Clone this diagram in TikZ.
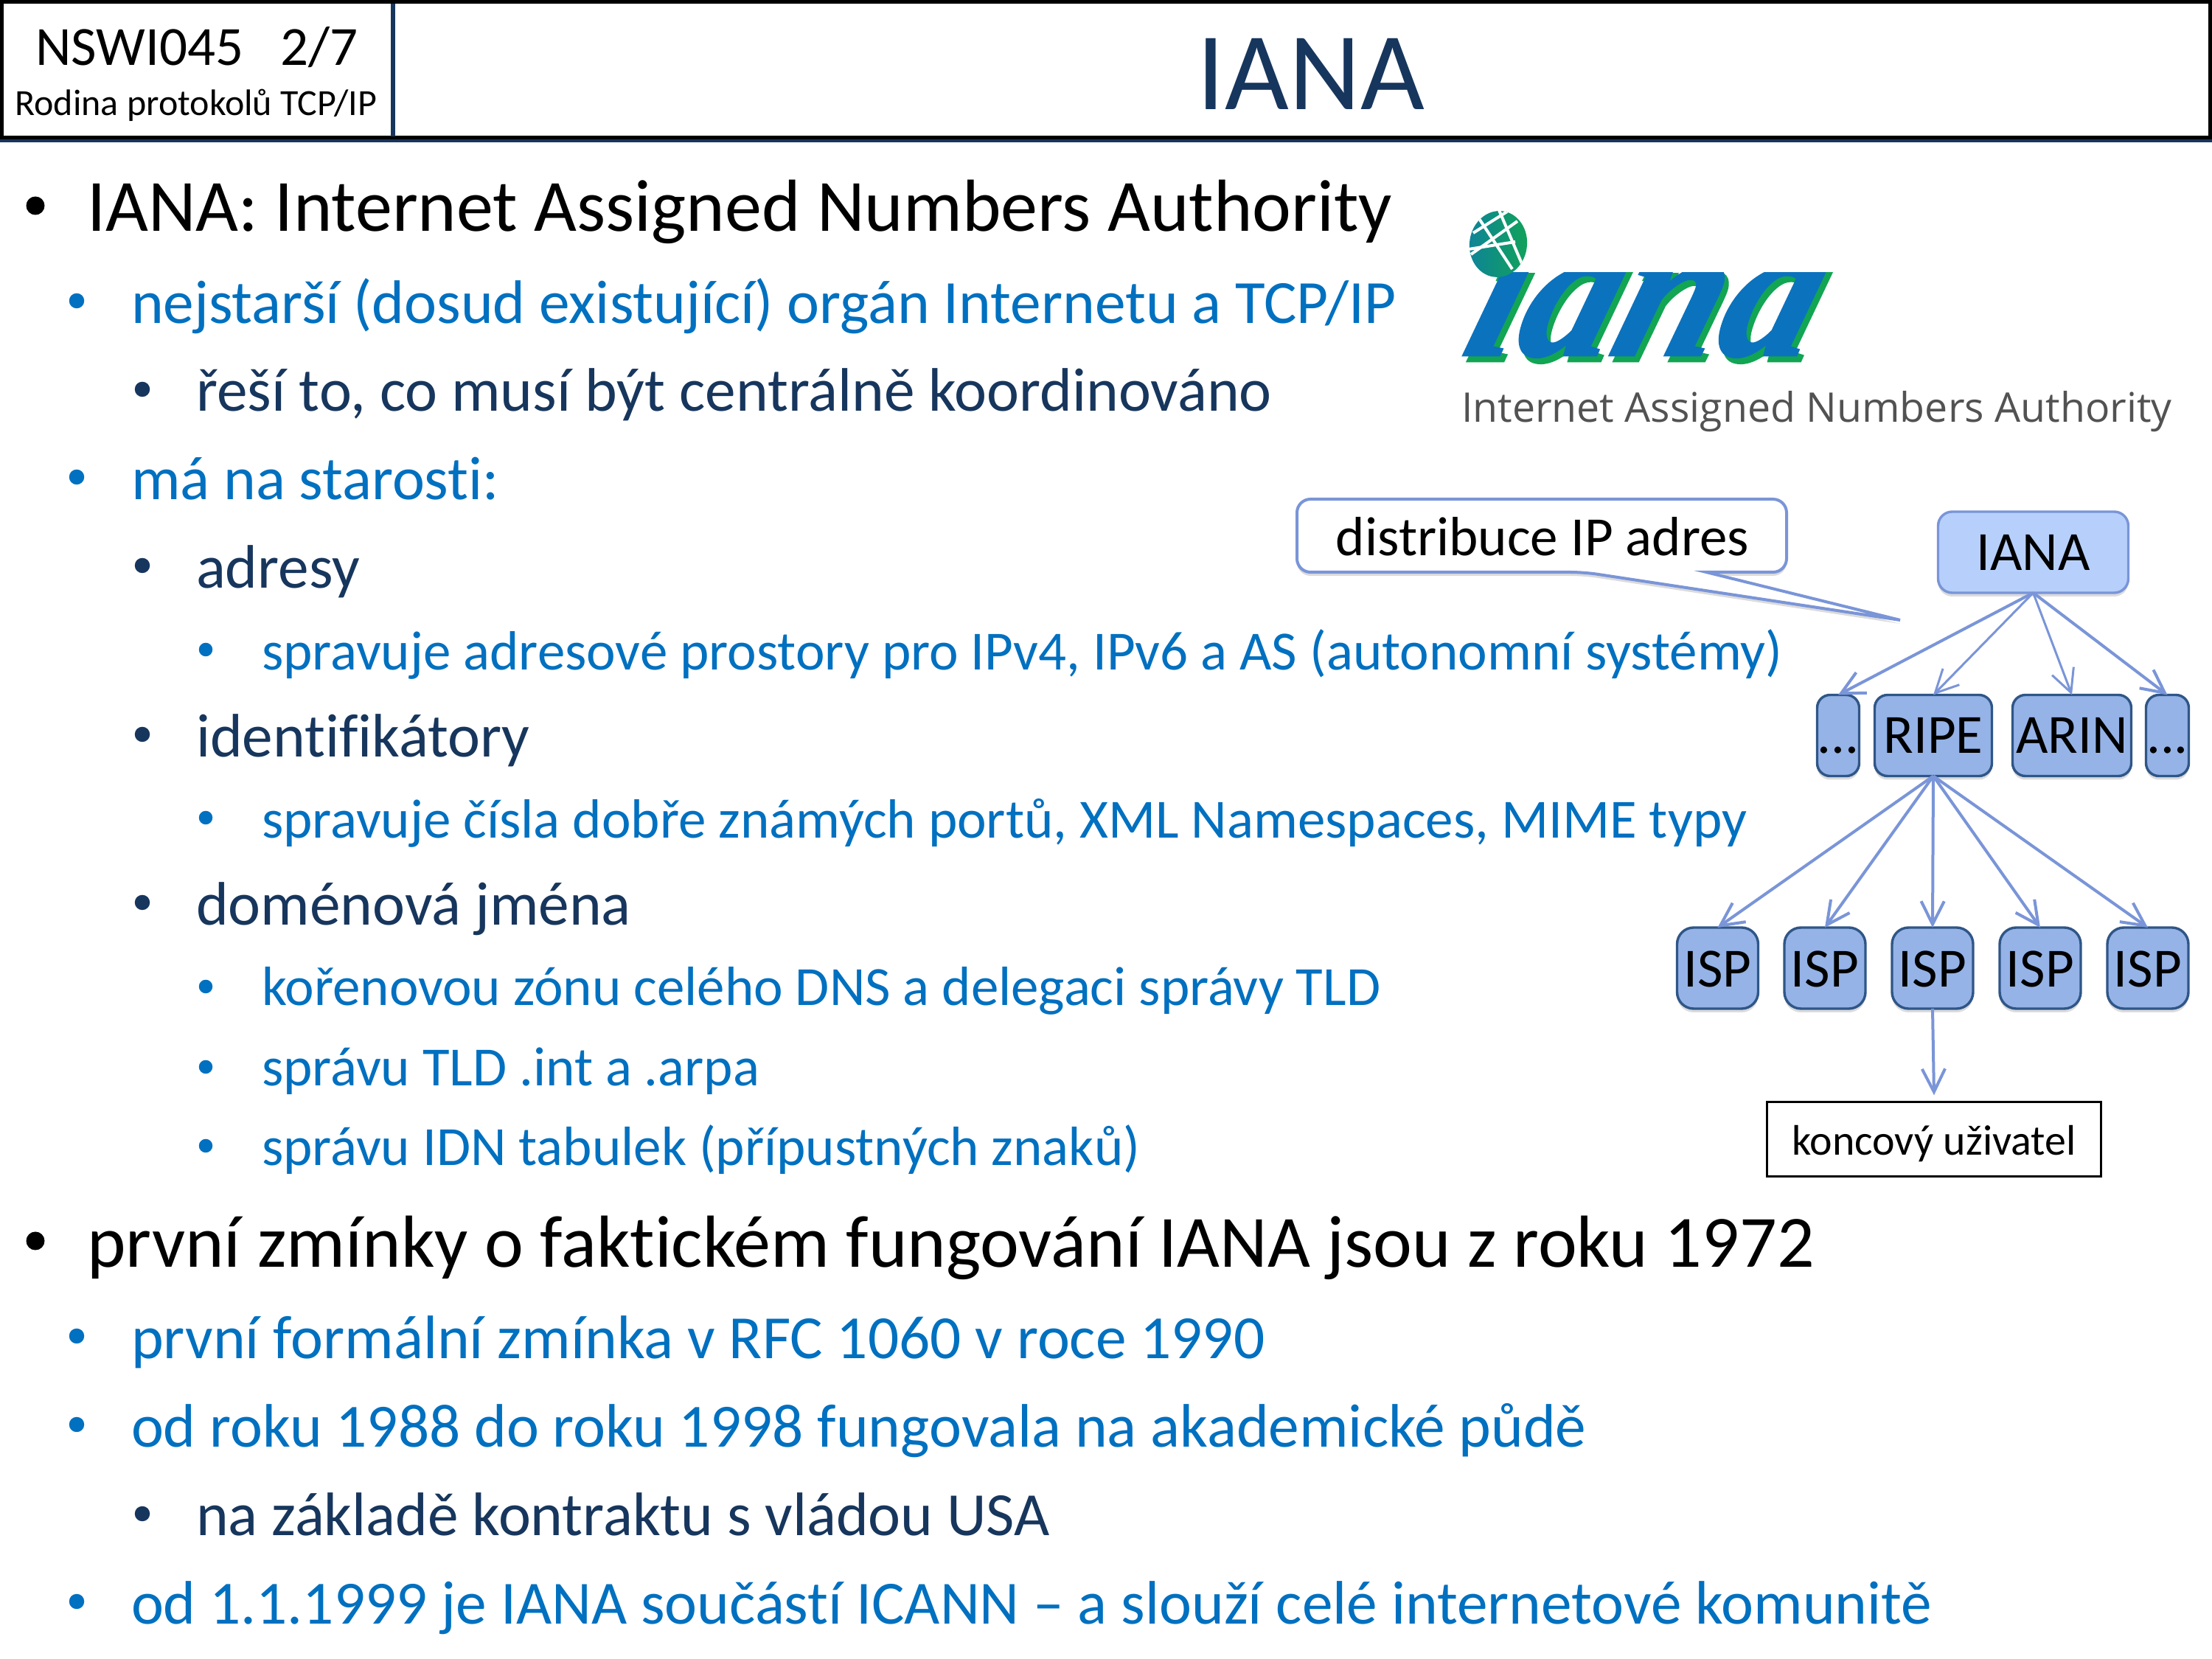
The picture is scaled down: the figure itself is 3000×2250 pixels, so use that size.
\documentclass[tikz,border=0pt]{standalone}
\usepackage{fontspec}
\setmainfont{Carlito}[Ligatures=NoCommon]
\newfontfamily\logofont{Liberation Serif}[BoldItalicFeatures={FakeBold=1.1}]
\newfontfamily\logosub{Open Sans}
\usetikzlibrary{arrows.meta,shadows,calc}
\definecolor{navy}{HTML}{17365D}
\definecolor{mid}{HTML}{0070C0}
\definecolor{boxf}{HTML}{95B3E7}
\definecolor{boxd}{HTML}{2F5687}
\definecolor{topf}{HTML}{B7D0FB}
\definecolor{conn}{HTML}{7A95D8}
\definecolor{logob}{HTML}{0B72BE}
\definecolor{logog}{HTML}{12A553}
\def\pxu{0.24pt}
\tikzset{
  txt/.style={anchor=base west,inner sep=0pt,outer sep=0pt},
  lone/.style={txt,text=black,font=\fontsize{24}{28}\selectfont},
  ltwo/.style={txt,text=mid,font=\fontsize{20}{24}\selectfont},
  lthree/.style={txt,text=navy,font=\fontsize{20}{24}\selectfont},
  lfour/.style={txt,text=mid,font=\fontsize{18}{22}\selectfont},
  dota/.style={circle,fill=black,draw=none,inner sep=0pt,minimum size=25*\pxu},
  dotb/.style={circle,fill=mid,draw=none,inner sep=0pt,minimum size=20.5*\pxu},
  dotc/.style={circle,fill=navy,draw=none,inner sep=0pt,minimum size=20.5*\pxu},
  dotd/.style={circle,fill=mid,draw=none,inner sep=0pt,minimum size=18.5*\pxu},
  softshadow/.style={drop shadow={shadow xshift=0pt,shadow yshift=-1.2pt,opacity=.2,fill=black!70}},
  isbox/.style={draw=boxd,fill=boxf,line width=3.4*\pxu,rounded corners=4.2pt,inner sep=0pt,outer sep=0pt,
     anchor=north west,font=\fontsize{18}{22}\selectfont,text=black,align=center,softshadow},
  topbox/.style={isbox,draw=conn,fill=topf,text height=19.2pt,text depth=7.2pt,rounded corners=4.6pt},
  rowbox/.style={isbox,text height=18.96pt,text depth=7.44pt},
  ispbox/.style={isbox,rounded corners=5.4pt,text height=19.44pt,text depth=6.96pt,minimum width=110*\pxu},
  endbox/.style={draw=black,fill=white,line width=3.4*\pxu,inner sep=0pt,outer sep=0pt,anchor=north west,
     font=\fontsize{13.9}{17}\selectfont,text height=17.28pt,text depth=6.96pt},
  conarrow/.style={draw=conn,line width=4*\pxu,-{Straight Barb[length=7.5pt,width=7.5pt]}},
  thinarrow/.style={conarrow,line width=3*\pxu},
}
\begin{document}
\begin{tikzpicture}[x=0.24pt,y=-0.24pt]
\useasboundingbox (0,0) rectangle (3000,2250);
\fill[white] (0,0) rectangle (3000,2250);
% header
\fill[navy] (0,189) rectangle (3000,193);
\draw[black,line width=5*\pxu] (2.5,2.5) rectangle (2997.5,187);
\fill[navy] (530,5) rectangle (536,185);
\node[txt,anchor=base,font=\fontsize{18}{22}\selectfont] (course) at (267,89) {NSWI045\hspace{12.2pt}2/7};
\node[txt,anchor=base,font=\fontsize{12}{14}\selectfont] (sub) at (266,157) {Rodina protokolů TCP/IP};
\node[txt,anchor=base,text=navy,font=\fontsize{36}{40}\selectfont] (title) at (1778,149) {IANA};
% bullets
\foreach \nm/\x/\y/\st in {ba/48/279/dota,bb/104/408/dotb,bc/193/528/dotc,bd/104/647/dotb,be/193/767/dotc,bf/279/881/dotd,bg/193/996/dotc,bh/279/1109/dotd,bi/193/1224/dotc,bj/279/1338/dotd,bk/279/1447/dotd,bl/279/1554/dotd,bm/48/1683/dota,bn/104/1812/dotb,bo/104/1932/dotb,bp/193/2053/dotc,bq/104/2172/dotb}
  \node[\st] (\nm) at (\x,\y) {};
% text
\node[lone] (ta) at (118,314) {IANA: Internet Assigned Numbers Authority};
\node[ltwo] (tb) at (178,439) {nejstarší (dosud existující) orgán Internetu a TCP/IP};
\node[lthree] (tc) at (266,558) {řeší to, co musí být centrálně koordinováno};
\node[ltwo] (td) at (178,678) {má na starosti:};
\node[lthree] (te) at (266,798) {adresy};
\node[lfour] (tf) at (355,909) {spravuje adresové prostory pro IPv4, IPv6 a AS (autonomní systémy)};
\node[lthree] (tg) at (266,1027) {identifikátory};
\node[lfour] (th) at (355,1137) {spravuje čísla dobře známých portů, XML Namespaces, MIME typy};
\node[lthree] (ti) at (266,1255) {doménová jména};
\node[lfour] (tj) at (355,1364) {kořenovou zónu celého DNS a delegaci správy TLD};
\node[lfour] (tk) at (355,1473) {správu TLD .int a .arpa};
\node[lfour] (tl) at (355,1581) {správu IDN tabulek (přípustných znaků)};
\node[lone] (tm) at (118,1719) {první zmínky o faktickém fungování IANA jsou z roku 1972};
\node[ltwo] (tn) at (178,1843) {první formální zmínka v RFC 1060 v roce 1990};
\node[ltwo] (to) at (178,1963) {od roku 1988 do roku 1998 fungovala na akademické půdě};
\node[lthree] (tp) at (266,2083) {na základě kontraktu s vládou USA};
\node[ltwo] (tq) at (178,2203) {od 1.1.1999 je IANA součástí ICANN – a slouží celé internetové komunitě};
% logo
\begin{scope}
\clip (1960,370) rectangle (2520,500);
\begin{scope}[shift={(1977,482)},xslant=0.3]
\node[inner sep=0pt,anchor=base west,text=logob,transform shape] (logomain) at (0,0) {\rlap{\hspace{1.92pt}\raisebox{-1.92pt}{\textcolor{logog}{\resizebox{113pt}{43pt}{\logofont\bfseries\itshape iana}}}}\resizebox{113pt}{43pt}{\logofont\bfseries\itshape iana}};
\end{scope}
\end{scope}
\begin{scope}
\clip[rotate around={-8:(2032,331)}] (2032,331) ellipse (39 and 45);
\shade[left color=logob!70!logog,right color=logog] (1985,285) rectangle (2080,380);
\draw[white,line width=4*\pxu] (2005,295) -- (2051,365);
\draw[white,line width=4*\pxu] (2033,285) -- (2065,360);
\draw[white,line width=4*\pxu] (2058,300) -- (1995,345);
\draw[white,line width=4*\pxu] (2044,287) -- (1998,316);
\draw[white,line width=4*\pxu] (1992,338) -- (2055,328);
\end{scope}
\node[txt,text=black!68,font=\logosub\fontsize{13.3}{16}\selectfont] (logosubt) at (1982,573) {Internet Assigned Numbers Authority};
% callout
\coordinate (calltip) at (2577,841);
\draw[draw=conn,line width=4*\pxu,fill=white,softshadow]
  (2148,776) [sharp corners] -- (calltip) -- (2314,776) [rounded corners=4.4pt] -- (2423,776) -- (2423,677) -- (1759,677) -- (1759,776) -- cycle;
\node[txt,anchor=base,font=\fontsize{18}{22}\selectfont] (callout) at (2092,754) {distribuce IP adres};
% boxes
\node[topbox,minimum width=258*\pxu] (iana) at (2628.5,694) {IANA};
\node[rowbox,minimum width=57*\pxu] (dl) at (2464.5,942.5) {...};
\node[rowbox,minimum width=159*\pxu] (ripe) at (2542.5,942.5) {RIPE};
\node[rowbox,minimum width=161*\pxu] (arin) at (2729.5,942.5) {ARIN};
\node[rowbox,minimum width=58*\pxu] (dr) at (2910.5,942.5) {...};
\node[ispbox] (ia) at (2274.5,1258) {ISP};
\node[ispbox] (ib) at (2420,1258) {ISP};
\node[ispbox] (ic) at (2566,1258) {ISP};
\node[ispbox] (id) at (2712,1258) {ISP};
\node[ispbox] (ie) at (2858,1258) {ISP};
\node[endbox,minimum width=453*\pxu] (user) at (2396.5,1494.5) {koncový uživatel};
% connectors
\draw[conarrow] (iana.south) -- (dl.north);
\draw[thinarrow] (iana.south) -- (ripe.north);
\draw[thinarrow] (iana.south) -- (arin.north);
\draw[conarrow] (iana.south) -- (dr.north);
\draw[conarrow] (ripe.south) -- (ia.north);
\draw[conarrow] (ripe.south) -- (ib.north);
\draw[conarrow] (ripe.south) -- (ic.north);
\draw[conarrow] (ripe.south) -- (id.north);
\draw[conarrow] (ripe.south) -- (ie.north);
\coordinate (userin) at ([yshift=2.2pt]user.north);
\draw[conarrow] (ic.south) -- (userin);
\end{tikzpicture}
\end{document}
